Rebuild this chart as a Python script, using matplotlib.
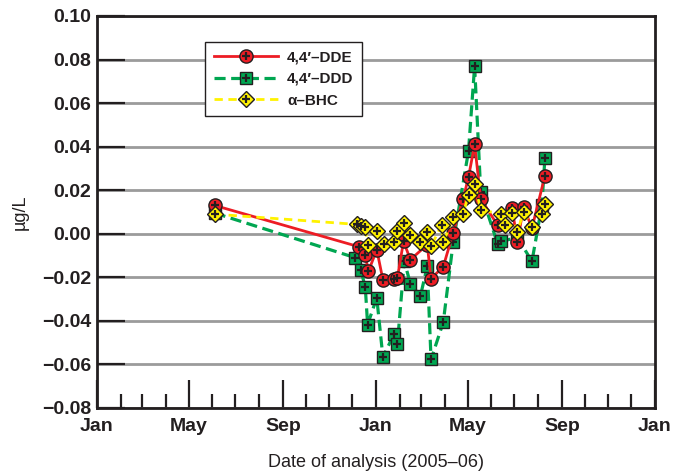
import numpy as np
import pandas as pd
import matplotlib
matplotlib.use('Agg')
import matplotlib.pyplot as plt
import matplotlib.dates as mdates
from matplotlib.ticker import FuncFormatter, MultipleLocator

plt.rcParams['font.family'] = ['Liberation Sans', 'DejaVu Sans']
plt.rcParams['lines.scale_dashes'] = False

# 4,4'-DDE
dde_dates = ['2005-06-04', '2005-12-10', '2005-12-18', '2005-12-22', '2006-01-02',
             '2006-01-10', '2006-01-25', '2006-01-29', '2006-02-06', '2006-02-15',
             '2006-03-09', '2006-03-14', '2006-03-30', '2006-04-12', '2006-04-25',
             '2006-05-02', '2006-05-10', '2006-05-18', '2006-06-09', '2006-06-28',
             '2006-07-05', '2006-07-13', '2006-07-24', '2006-08-10']
dde_vals = [0.013, -0.006, -0.0096, -0.0173, -0.0073,
            -0.0211, -0.0206, -0.0202, -0.0035, -0.0119,
            -0.005, -0.0206, -0.0151, 0.0005, 0.016,
            0.026, 0.041, 0.016, 0.004, 0.012,
            -0.004, 0.0125, 0.0026, 0.0266]

# 4,4'-DDD
ddd_dates = ['2005-06-04', '2005-12-05', '2005-12-12', '2005-12-18', '2005-12-21',
             '2006-01-02', '2006-01-10', '2006-01-25', '2006-01-29', '2006-02-07',
             '2006-02-15', '2006-02-28', '2006-03-09', '2006-03-14', '2006-03-30',
             '2006-04-12', '2006-05-02', '2006-05-10', '2006-05-18', '2006-06-09',
             '2006-06-14', '2006-07-05', '2006-07-24', '2006-08-06', '2006-08-10']
ddd_vals = [0.0095, -0.011, -0.0165, -0.0246, -0.0417,
            -0.0294, -0.0566, -0.0458, -0.0505, -0.0127,
            -0.0229, -0.0287, -0.015, -0.0577, -0.0406,
            -0.0038, 0.038, 0.077, 0.019, -0.0045,
            -0.0035, -0.0017, -0.0127, 0.013, 0.035]

# alpha-BHC
bhc_dates = ['2005-06-04', '2005-12-07', '2005-12-12', '2005-12-18', '2005-12-21',
             '2006-01-02', '2006-01-11', '2006-01-25', '2006-01-29', '2006-02-07',
             '2006-02-14', '2006-02-28', '2006-03-09', '2006-03-14', '2006-03-28',
             '2006-03-30', '2006-04-12', '2006-04-25', '2006-05-02', '2006-05-10',
             '2006-05-18', '2006-06-14', '2006-06-19', '2006-06-28', '2006-07-05',
             '2006-07-13', '2006-07-24', '2006-08-06', '2006-08-10']
bhc_vals = [0.009, 0.0043, 0.0037, 0.0032, -0.0052,
            0.0014, -0.0047, -0.004, 0.0012, 0.0049,
            -0.0005, -0.004, 0.001, -0.0058, 0.0041,
            -0.004, 0.0075, 0.0092, 0.018, 0.023,
            0.011, 0.009, 0.004, 0.0095, 0.001,
            0.010, 0.003, 0.009, 0.0137]

labels = ['4,4\u2032\u2013DDE', '4,4\u2032\u2013DDD', '\u03b1\u2013BHC']

fig = plt.figure(figsize=(6.75, 4.76), dpi=100)
ax = fig.add_axes([0.1437, 0.1429, 0.8267, 0.8235])

ink = '#231f20'

x1 = pd.to_datetime(dde_dates)
x2 = pd.to_datetime(ddd_dates)
x3 = pd.to_datetime(bhc_dates)

l2, = ax.plot(x2, ddd_vals, color='#00a651', lw=2.3, dashes=(8, 4), marker='s', ms=8.5,
              mfc='#00a651', mec=ink, mew=1.0, zorder=3)
p2, = ax.plot(x2, ddd_vals, ls='none', marker='+', ms=5.5, mec=ink, mew=1.6, zorder=3.1)
l1, = ax.plot(x1, dde_vals, color='#ed1c24', lw=2.0, marker='o', ms=9.5,
              mfc='#ed1c24', mec=ink, mew=1.0, zorder=4)
p1, = ax.plot(x1, dde_vals, ls='none', marker='+', ms=5.5, mec=ink, mew=1.6, zorder=4.1)
l3, = ax.plot(x3, bhc_vals, color='#fff200', lw=2.0, dashes=(6, 4), marker='D', ms=8.5,
              mfc='#fff200', mec=ink, mew=1.0, zorder=5)
p3, = ax.plot(x3, bhc_vals, ls='none', marker='+', ms=5.5, mec=ink, mew=1.6, zorder=5.1)

ax.set_xlim(pd.Timestamp('2005-01-01'), pd.Timestamp('2007-01-01'))
ax.set_ylim(-0.08, 0.10)

ax.xaxis.set_major_locator(mdates.MonthLocator(bymonth=[1, 5, 9]))
ax.xaxis.set_minor_locator(mdates.MonthLocator())
ax.xaxis.set_major_formatter(mdates.DateFormatter('%b'))
ax.yaxis.set_major_locator(MultipleLocator(0.02))
ax.yaxis.set_major_formatter(FuncFormatter(
    lambda v, pos: ('%.2f' % (0.0 if abs(v) < 1e-9 else v)).replace('-', '\u2212')))

ax.grid(axis='y', color='#9b9b9b', lw=2.0, zorder=1)
ax.set_axisbelow(True)

ax.tick_params(axis='x', which='major', direction='in', length=20, width=1.6,
               color=ink, labelsize=14, pad=7)
ax.tick_params(axis='x', which='minor', direction='in', length=10, width=1.6, color=ink)
ax.tick_params(axis='y', which='major', direction='in', length=20, width=1.6,
               color=ink, labelsize=14, pad=4)
for lab in ax.get_xticklabels() + ax.get_yticklabels():
    lab.set_fontweight('bold')
    lab.set_color(ink)

for s in ax.spines.values():
    s.set_linewidth(2.0)
    s.set_color(ink)

ax.set_xlabel('Date of analysis (2005\u201306)', fontsize=13, color=ink, labelpad=14)
ax.set_ylabel('\u00b5g/L', fontsize=13, color=ink, labelpad=10)

leg = ax.legend([(l1, p1), (l2, p2), (l3, p3)], labels, loc='upper left',
                bbox_to_anchor=(0.194, 0.934), borderaxespad=0, fontsize=11,
                handlelength=4.2, handletextpad=0.6, borderpad=0.55,
                labelspacing=0.5, fancybox=False, framealpha=1, edgecolor=ink)
leg.get_frame().set_linewidth(1.0)
for t in leg.get_texts():
    t.set_fontweight('bold')
    t.set_color(ink)

fig.savefig('out.png', dpi=100)
